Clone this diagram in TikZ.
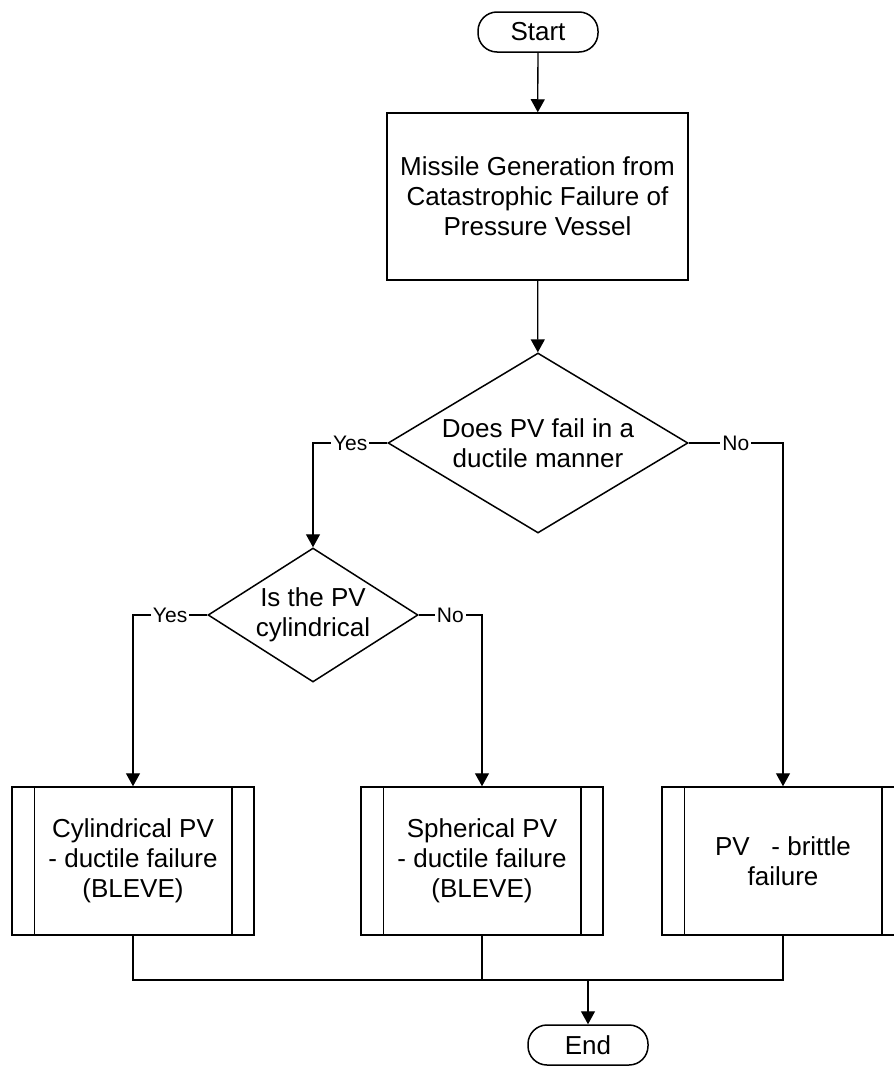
\documentclass[tikz,border=0pt]{standalone}
\usepackage{fontspec}
\setmainfont{Liberation Sans}
\usetikzlibrary{arrows.meta,shapes.geometric,calc}

\tikzset{
  base/.style={draw, line width=1.5pt, align=center, inner sep=0pt,
    font=\fontsize{26}{30}\selectfont},
  terminal/.style={base, rounded corners=19pt, minimum width=120pt, minimum height=40pt},
  procbox/.style={base, rectangle, minimum width=301pt, minimum height=167pt},
  decision/.style={base, diamond},
  predef/.style={base, rectangle, minimum width=242pt, minimum height=148pt},
  conn/.style={line width=1.3pt},
  arr/.style={conn, -{Triangle[width=14pt,length=13pt]}},
  lbl/.style={fill=white, inner sep=2pt, font=\fontsize{21}{24}\selectfont},
}

% inner side bars of a predefined-process box
\newcommand{\sidebars}[1]{%
  \draw[line width=1.5pt] ($(#1.north west)+(23,0)$) -- ($(#1.south west)+(23,0)$);
  \draw[line width=1.5pt] ($(#1.north east)+(-23,0)$) -- ($(#1.south east)+(-23,0)$);
}

\begin{document}
\begin{tikzpicture}[x=1pt, y=-1pt]
  \useasboundingbox (0,0) rectangle (894,1068);
  \clip (0,0) rectangle (894,1068);
  \fill[white] (0,0) rectangle (894,1068);

  \node[terminal] (start) at (538,32) {Start};
  \node[procbox] (gen) at (537.5,196.5)
    {Missile Generation from\\Catastrophic Failure of\\Pressure Vessel};
  \node[decision, minimum width=300pt, minimum height=180pt, aspect=1.67]
    (d1) at (538,443) {Does PV fail in a\\ductile manner};
  \node[decision, minimum width=210pt, minimum height=134pt, aspect=1.57]
    (d2) at (313,615) {Is the PV\\cylindrical};

  \node[predef] (cyl) at (133,861) {Cylindrical PV\\- ductile failure\\(BLEVE)};
  \node[predef] (sph) at (482,861) {Spherical PV\\- ductile failure\\(BLEVE)};
  \node[predef] (brt) at (783,861) {PV\ \ \ - brittle\\failure};
  \sidebars{cyl}
  \sidebars{sph}
  \sidebars{brt}

  \node[terminal] (end) at (588,1045) {End};

  % main flow
  \draw[arr] (start) -- (gen);
  \draw[arr] (gen) -- (d1);
  \draw[arr] (d1.west) -- node[lbl] {Yes} (d1.west -| d2.north) -- (d2.north);
  \draw[arr] (d1.east) -- node[lbl] {No} (d1.east -| brt.north) -- (brt.north);
  \draw[arr] (d2.west) -- node[lbl] {Yes} (d2.west -| cyl.north) -- (cyl.north);
  \draw[arr] (d2.east) -- node[lbl] {No} (d2.east -| sph.north) -- (sph.north);

  % merge of the three outcomes
  \coordinate (jl) at (133,980);
  \coordinate (jr) at (783,980);
  \draw[conn] (cyl.south) -- (jl) -- (jr) -- (brt.south);
  \draw[conn] (sph.south) -- (sph.south |- jl);
  \draw[arr] (end.north |- jl) -- (end.north);
\end{tikzpicture}
\end{document}
